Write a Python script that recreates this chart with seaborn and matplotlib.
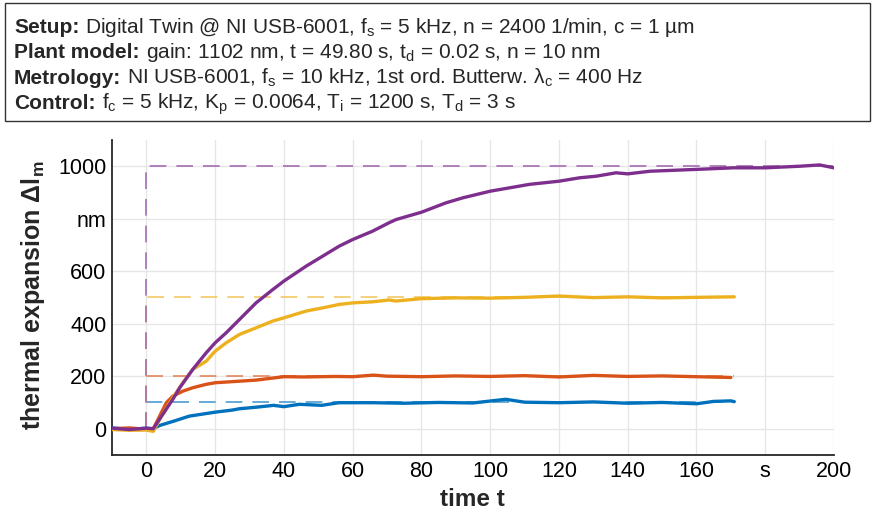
import numpy as np
import pandas as pd
import matplotlib
matplotlib.use("Agg")
import matplotlib.pyplot as plt
import seaborn as sns
from matplotlib.patches import Rectangle
from matplotlib.colors import to_rgb

# step responses (time in s, expansion in nm)
t_blue = [-10, -5, 0, 2, 4, 8, 12.5, 17.5, 20, 25, 27, 32, 37, 40, 44.5, 51, 56, 66, 75,
          85, 95, 104.5, 110, 120, 130, 140, 150, 160, 165, 170, 171]
v_blue = [3, -2, 2, 0, 13, 29, 48, 58, 63, 71, 76, 82, 89, 84, 93, 89, 99, 99, 97,
          100, 98, 112, 101, 99, 102, 97, 100, 95, 104, 106, 103]

t_orange = [-10, -5, 0, 2, 2.9, 5.8, 7.7, 10.6, 13.5, 17.4, 20, 27.1, 31.9, 40, 46, 55,
            60, 66, 70, 80, 90, 100, 110, 120, 130, 140, 150, 160, 170]
v_orange = [0, 3, -2, 0, 23, 99, 124, 143, 156, 169, 175, 181, 185, 198, 197, 199,
            198, 204, 200, 198, 201, 199, 202, 197, 203, 199, 201, 198, 195]

t_yellow = [-10, -5, 0, 2, 3.9, 7.7, 10.6, 13.5, 17.4, 20, 23.2, 27.1, 31.9, 36.8, 40,
            46.5, 51.3, 56.1, 60, 65.8, 70.6, 72.6, 80, 90, 100, 110, 120, 130, 140,
            150, 160, 171]
v_yellow = [-3, -6, -5, -10, 36, 118, 175, 226, 257, 295, 327, 359, 384, 410, 422,
            448, 460, 473, 479, 483, 490, 486, 495, 498, 497, 500, 505, 499, 502,
            498, 500, 502]

t_purple = [-10, -5, 0, 2, 4, 7.7, 9.7, 13.5, 17.4, 20, 23.2, 27.1, 31.9, 36.8, 40,
            46.5, 51.3, 56.1, 60, 65.8, 70.6, 72.6, 80, 87.2, 92.1, 100, 106.6, 111.4,
            120, 126, 130.8, 136.6, 140, 146.5, 160, 170.7, 180, 190, 195.8, 200]
v_purple = [2, -3, 2, 0, 40, 112, 156, 226, 289, 327, 365, 416, 479, 530, 562,
            619, 657, 695, 720, 752, 784, 796, 824, 860, 879, 904, 919, 930,
            942, 955, 961, 974, 970, 980, 987, 993, 993, 999, 1004, 993]

names = ["100 nm", "200 nm", "500 nm", "1000 nm"]
setpoints = [100, 200, 500, 1000]
set_end = [171, 171, 171, 200]
colors = ["#0072BD", "#D95319", "#EDB120", "#7E2F8E"]

x_ticks = [0, 20, 40, 60, 80, 100, 120, 140, 160, 180, 200]
x_labels = ["0", "20", "40", "60", "80", "100", "120", "140", "160", "s", "200"]
y_ticks = [0, 200, 400, 600, 800, 1000]
y_labels = ["0", "200", "400", "600", "nm", "1000"]

info = [
    ("Setup:", "Digital Twin @ NI USB-6001, f$_\\mathrm{s}$ = 5 kHz, n = 2400 1/min, c = 1 µm"),
    ("Plant model:", "gain: 1102 nm, t = 49.80 s, t$_\\mathrm{d}$ = 0.02 s, n = 10 nm"),
    ("Metrology:", "NI USB-6001, f$_\\mathrm{s}$ = 10 kHz, 1st ord. Butterw. λ$_\\mathrm{c}$ = 400 Hz"),
    ("Control:", "f$_\\mathrm{c}$ = 5 kHz, K$_\\mathrm{p}$ = 0.0064, T$_\\mathrm{i}$ = 1200 s, T$_\\mathrm{d}$ = 3 s"),
]

df = pd.concat([
    pd.DataFrame({"t": t_blue, "v": v_blue, "s": names[0]}),
    pd.DataFrame({"t": t_orange, "v": v_orange, "s": names[1]}),
    pd.DataFrame({"t": t_yellow, "v": v_yellow, "s": names[2]}),
    pd.DataFrame({"t": t_purple, "v": v_purple, "s": names[3]}),
])

sns.set_theme(style="white")
plt.rcParams["font.family"] = ["Liberation Sans", "DejaVu Sans"]
plt.rcParams["mathtext.fontset"] = "custom"
plt.rcParams["mathtext.rm"] = "Liberation Sans"
plt.rcParams["mathtext.bf"] = "Liberation Sans:bold"
plt.rcParams["mathtext.it"] = "Liberation Sans:italic"

fig = plt.figure(figsize=(8.74, 5.16), dpi=100)
ax = fig.add_axes([112 / 874, 61 / 516, 722 / 874, 315.3 / 516])


def lighter(c, k=0.3):
    r, g, b = to_rgb(c)
    return (r + (1 - r) * k, g + (1 - g) * k, b + (1 - b) * k)


# setpoint steps (dashed)
for sp, te, c in zip(setpoints, set_end, colors):
    ax.plot([0, 0, te], [0, sp, sp], color=lighter(c), lw=1.2,
            linestyle=(0, (10, 6)), zorder=2)

sns.lineplot(data=df, x="t", y="v", hue="s", hue_order=names, palette=colors,
             estimator=None, sort=False, lw=2.4, legend=False, ax=ax, zorder=3)

ax.set_xlim(-10, 200)
ax.set_ylim(-100, 1100)
ax.set_xticks(x_ticks)
ax.set_xticklabels(x_labels)
ax.set_yticks(y_ticks)
ax.set_yticklabels(y_labels)
ax.grid(True, color="#e6e6e6", lw=1)
ax.set_axisbelow(True)
for side in ["top", "right"]:
    ax.spines[side].set_visible(False)
for side in ["left", "bottom"]:
    ax.spines[side].set_color("#262626")
    ax.spines[side].set_linewidth(1.3)
ax.tick_params(direction="in", length=6, width=1, color="#262626",
               labelsize=15.5, labelcolor="black", pad=4)
ax.set_xlabel("")
ax.set_ylabel("")

fig.text(33 / 874, 1 - 295 / 516, "thermal expansion Δl$_\\mathbf{m}$", rotation=90,
         ha="center", va="center", fontsize=18, fontweight="bold")
fig.text(472 / 874, 1 - 500 / 516, "time t", ha="center", va="center",
         fontsize=17.5, fontweight="bold")

# info box on top
fig.patches.append(Rectangle((5 / 874, 1 - 121 / 516), 865 / 874, 118 / 516,
                             transform=fig.transFigure, fill=False,
                             ec="#333333", lw=1))
renderer = fig.canvas.get_renderer()
for i, (head, rest) in enumerate(info):
    y = 1 - (33 + i * 25.4) / 516
    h = fig.text(14 / 874, y, head, fontsize=15, fontweight="bold", va="baseline")
    bb = h.get_window_extent(renderer)
    fig.text((bb.x1 + 6) / 874, y, rest, fontsize=15, va="baseline")

fig.savefig("out.png", dpi=100)
